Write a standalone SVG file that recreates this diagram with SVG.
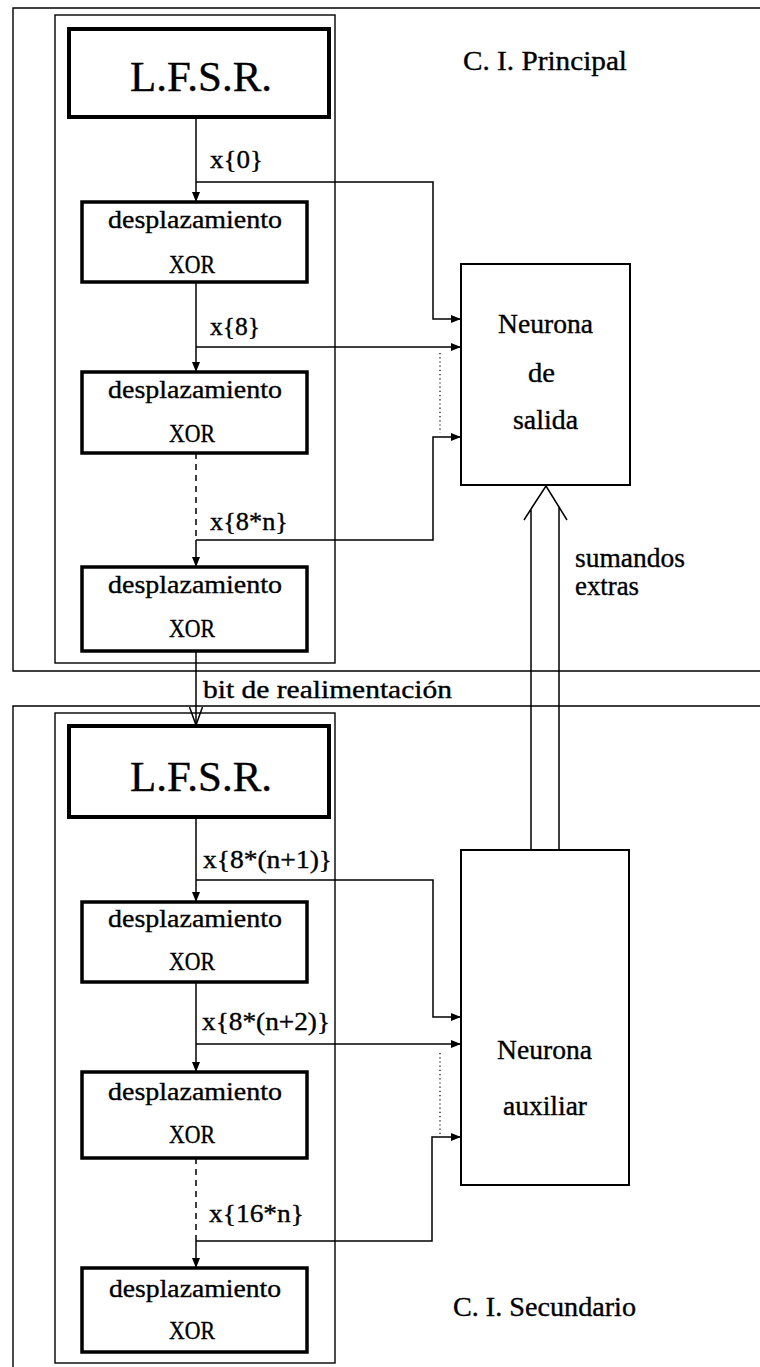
<svg xmlns="http://www.w3.org/2000/svg" width="760" height="1367" viewBox="0 0 760 1367">
  <style>
    .frame { fill: none; stroke: #000; stroke-width: 1.4; }
    .lfsr { fill: #fff; stroke: #000; stroke-width: 4; }
    .xor { fill: #fff; stroke: #000; stroke-width: 3.5; }
    .neuron { fill: #fff; stroke: #000; stroke-width: 2; }
    .wire { fill: none; stroke: #000; stroke-width: 1.5; }
    .dash { fill: none; stroke: #000; stroke-width: 1.5; stroke-dasharray: 6 5; }
    .dot { fill: none; stroke: #000; stroke-width: 1.2; stroke-dasharray: 1.2 3; }
    text { font-family: "Liberation Serif", "Times New Roman", serif; fill: #000; stroke: #000; stroke-width: 0.35; }
    .big { font-size: 42px; }
    .box { font-size: 26px; }
    .lbl { font-size: 25px; }
    .neu { font-size: 27px; }
  </style>
  <defs>
    <marker id="arr" viewBox="0 0 10 8" refX="10" refY="4" markerWidth="10" markerHeight="8" markerUnits="userSpaceOnUse" orient="auto">
      <path d="M0,0 L10,4 L0,8 Z" fill="#000"/>
    </marker>
  </defs>

  <!-- chip outlines -->
  <g id="chip-principal">
    <path class="frame" d="M760,8 H13 V671 H760"/>
    <rect class="frame" x="55" y="15" width="280" height="648"/>
    <text class="neu" x="463" y="70" textLength="164" lengthAdjust="spacingAndGlyphs">C. I.  Principal</text>
  </g>
  <g id="chip-secundario">
    <path class="frame" d="M760,706 H13 V1367"/>
    <rect class="frame" x="55" y="713" width="280" height="650"/>
    <text class="neu" x="453" y="1316" textLength="183" lengthAdjust="spacingAndGlyphs">C. I. Secundario</text>
  </g>

  <!-- connectors -->
  <g id="connectors">
    <!-- principal chain -->
    <line class="wire" x1="196" y1="117" x2="196" y2="202" marker-end="url(#arr)"/>
    <line class="wire" x1="196" y1="282" x2="196" y2="372" marker-end="url(#arr)"/>
    <line class="dash" x1="196" y1="453" x2="196" y2="540"/>
    <line class="wire" x1="196" y1="540" x2="196" y2="567" marker-end="url(#arr)"/>
    <path class="wire" d="M196,182 H433 V319 H461" marker-end="url(#arr)"/>
    <line class="wire" x1="196" y1="347" x2="461" y2="347" marker-end="url(#arr)"/>
    <path class="wire" d="M196,540 H433 V437 H461" marker-end="url(#arr)"/>
    <line class="dot" x1="440" y1="353" x2="440" y2="433"/>

    <!-- feedback bit -->
    <line class="wire" x1="196" y1="651" x2="196" y2="725"/>
    <path class="wire" d="M189.5,707 L196,725 L202.5,707"/>

    <!-- secondary chain -->
    <line class="wire" x1="196" y1="817" x2="196" y2="902" marker-end="url(#arr)"/>
    <line class="wire" x1="196" y1="982" x2="196" y2="1072" marker-end="url(#arr)"/>
    <line class="dash" x1="196" y1="1158" x2="196" y2="1241"/>
    <line class="wire" x1="196" y1="1241" x2="196" y2="1268" marker-end="url(#arr)"/>
    <path class="wire" d="M196,880 H433 V1017 H461" marker-end="url(#arr)"/>
    <line class="wire" x1="196" y1="1044" x2="461" y2="1044" marker-end="url(#arr)"/>
    <path class="wire" d="M196,1241 H432 V1137 H461" marker-end="url(#arr)"/>
    <line class="dot" x1="440" y1="1053" x2="440" y2="1134"/>

    <!-- extra addends bus -->
    <path class="wire" d="M531,850 V509 L524,520 M531,509 L546,486 L559,507 V850 M559,507 L567,520"/>
  </g>

  <!-- principal chip nodes -->
  <g id="lfsr-1">
    <rect class="lfsr" x="69" y="29" width="260" height="88"/>
    <text class="big" x="201" y="91" text-anchor="middle" textLength="142" lengthAdjust="spacingAndGlyphs">L.F.S.R.</text>
  </g>
  <g id="xor-1">
    <rect class="xor" x="82" y="202" width="225" height="80"/>
    <text class="box" x="195" y="228" text-anchor="middle" textLength="174" lengthAdjust="spacingAndGlyphs">desplazamiento</text>
    <text class="box" x="192" y="273" text-anchor="middle" textLength="46" lengthAdjust="spacingAndGlyphs">XOR</text>
  </g>
  <g id="xor-2">
    <rect class="xor" x="82" y="372" width="225" height="81"/>
    <text class="box" x="195" y="398" text-anchor="middle" textLength="174" lengthAdjust="spacingAndGlyphs">desplazamiento</text>
    <text class="box" x="192" y="442" text-anchor="middle" textLength="46" lengthAdjust="spacingAndGlyphs">XOR</text>
  </g>
  <g id="xor-3">
    <rect class="xor" x="82" y="567" width="225" height="84"/>
    <text class="box" x="195" y="593" text-anchor="middle" textLength="174" lengthAdjust="spacingAndGlyphs">desplazamiento</text>
    <text class="box" x="192" y="637" text-anchor="middle" textLength="46" lengthAdjust="spacingAndGlyphs">XOR</text>
  </g>
  <g id="neurona-salida">
    <rect class="neuron" x="461" y="264" width="169" height="221"/>
    <text class="neu" x="498" y="333" textLength="95" lengthAdjust="spacingAndGlyphs">Neurona</text>
    <text class="neu" x="528" y="382" textLength="27" lengthAdjust="spacingAndGlyphs">de</text>
    <text class="neu" x="513" y="429" textLength="65" lengthAdjust="spacingAndGlyphs">salida</text>
  </g>

  <!-- secondary chip nodes -->
  <g id="lfsr-2">
    <rect class="lfsr" x="69" y="726" width="260" height="91"/>
    <text class="big" x="201" y="791" text-anchor="middle" textLength="142" lengthAdjust="spacingAndGlyphs">L.F.S.R.</text>
  </g>
  <g id="xor-4">
    <rect class="xor" x="82" y="902" width="225" height="80"/>
    <text class="box" x="195" y="927" text-anchor="middle" textLength="174" lengthAdjust="spacingAndGlyphs">desplazamiento</text>
    <text class="box" x="192" y="970" text-anchor="middle" textLength="46" lengthAdjust="spacingAndGlyphs">XOR</text>
  </g>
  <g id="xor-5">
    <rect class="xor" x="82" y="1072" width="225" height="86"/>
    <text class="box" x="195" y="1100" text-anchor="middle" textLength="174" lengthAdjust="spacingAndGlyphs">desplazamiento</text>
    <text class="box" x="192" y="1143" text-anchor="middle" textLength="46" lengthAdjust="spacingAndGlyphs">XOR</text>
  </g>
  <g id="xor-6">
    <rect class="xor" x="82" y="1268" width="225" height="84"/>
    <text class="box" x="195" y="1297" text-anchor="middle" textLength="172" lengthAdjust="spacingAndGlyphs">desplazamiento</text>
    <text class="box" x="192" y="1339" text-anchor="middle" textLength="46" lengthAdjust="spacingAndGlyphs">XOR</text>
  </g>
  <g id="neurona-auxiliar">
    <rect class="neuron" x="461" y="850" width="168" height="335"/>
    <text class="neu" x="497" y="1059" textLength="95" lengthAdjust="spacingAndGlyphs">Neurona</text>
    <text class="neu" x="503" y="1115" textLength="84" lengthAdjust="spacingAndGlyphs">auxiliar</text>
  </g>

  <!-- signal labels -->
  <g id="labels">
    <text class="lbl" x="210" y="168" textLength="53" lengthAdjust="spacingAndGlyphs">x{0}</text>
    <text class="lbl" x="210" y="335" textLength="50" lengthAdjust="spacingAndGlyphs">x{8}</text>
    <text class="lbl" x="210" y="530" textLength="78" lengthAdjust="spacingAndGlyphs">x{8*n}</text>
    <text class="lbl" x="203" y="698" textLength="249" lengthAdjust="spacingAndGlyphs">bit  de  realimentación</text>
    <text class="lbl" x="203" y="868" textLength="129" lengthAdjust="spacingAndGlyphs">x{8*(n+1)}</text>
    <text class="lbl" x="202" y="1030" textLength="128" lengthAdjust="spacingAndGlyphs">x{8*(n+2)}</text>
    <text class="lbl" x="209" y="1222" textLength="95" lengthAdjust="spacingAndGlyphs">x{16*n}</text>
    <text class="neu" x="575" y="567" textLength="110" lengthAdjust="spacingAndGlyphs">sumandos</text>
    <text class="neu" x="575" y="595" textLength="64" lengthAdjust="spacingAndGlyphs">extras</text>
  </g>
</svg>
